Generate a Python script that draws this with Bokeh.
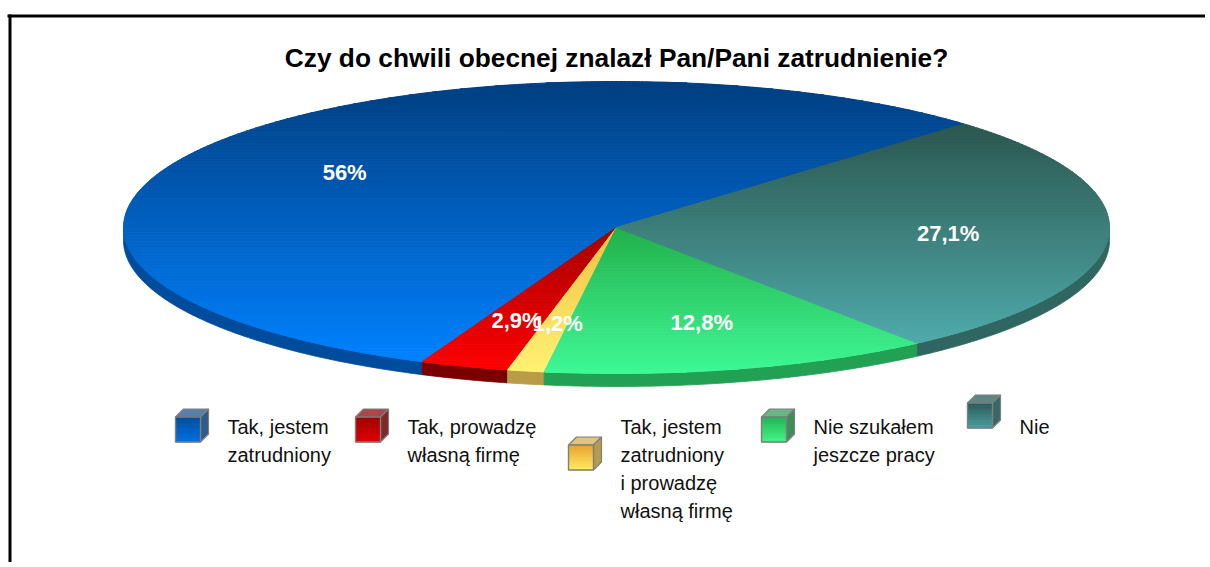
import math
from bokeh.plotting import figure
from bokeh.models import Range1d, ColumnDataSource
from bokeh.core.properties import value
from bokeh.embed import file_html
from bokeh.resources import INLINE

# ---------------- data ----------------
title = "Czy do chwili obecnej znalazł Pan/Pani zatrudnienie?"
categories = [
    "Tak, jestem\nzatrudniony",
    "Tak, prowadzę\nwłasną firmę",
    "Tak, jestem\nzatrudniony\ni prowadzę\nwłasną firmę",
    "Nie szukałem\njeszcze pracy",
    "Nie",
]
values = [56, 2.9, 1.2, 12.8, 27.1]

# ---------------- style ----------------
top_grad = [("#003E80", "#0082FF"), ("#A30000", "#FF0000"), ("#EFC040", "#FFF173"),
            ("#22B04A", "#40F896"), ("#2C574F", "#50AAAB")]
side_cols = ["#004C9C", "#7A0000", "#B89C48", "#22A053", "#2F6662"]
cube_front = [("#004C9C", "#0070E0"), ("#A00000", "#E00000"), ("#E8A030", "#FFEA60"),
              ("#1FB455", "#45F285"), ("#2A5A58", "#4A9C9C")]
cube_top = ["#5A80AA", "#A84848", "#E2C47E", "#6CB684", "#5F8585"]
cube_side = ["#2E5A8C", "#7E2828", "#B49C50", "#3D8E58", "#3A6666"]
legend_x = [175, 355, 568, 761, 967]

FONT = "Liberation Sans"
W, H = 1205, 562
CX, CY, RX, RY, DEPTH = 616, 227, 493, 146, 13
START = 45.2


def hex2rgb(h):
    h = h.lstrip("#")
    return tuple(int(h[i:i + 2], 16) for i in (0, 2, 4))


def mix(c0, c1, f):
    a, b = hex2rgb(c0), hex2rgb(c1)
    return "#%02x%02x%02x" % tuple(int(round(a[i] + (b[i] - a[i]) * f)) for i in range(3))


def clip(poly, yv, keep_greater):
    out = []
    n = len(poly)
    if n == 0:
        return out
    def inside(pt):
        return pt[1] >= yv if keep_greater else pt[1] <= yv
    for i in range(n):
        cur = poly[i]
        prev = poly[i - 1]
        ci, pi = inside(cur), inside(prev)
        if ci:
            if not pi:
                t = (yv - prev[1]) / (cur[1] - prev[1])
                out.append((prev[0] + t * (cur[0] - prev[0]), yv))
            out.append(cur)
        elif pi:
            t = (yv - prev[1]) / (cur[1] - prev[1])
            out.append((prev[0] + t * (cur[0] - prev[0]), yv))
    return out


def ept(t_deg, dy=0.0):
    t = math.radians(t_deg)
    return (CX + RX * math.cos(t), CY - RY * math.sin(t) + dy)


def arc(a0, a1, dy=0.0):
    n = max(2, int(abs(a1 - a0) / 0.5) + 1)
    return [ept(a0 + (a1 - a0) * i / (n - 1), dy) for i in range(n)]


p = figure(width=W, height=H, x_range=Range1d(0, W), y_range=Range1d(H, 0),
           output_backend="svg", toolbar_location=None, min_border=0,
           x_axis_location=None, y_axis_location=None)
p.grid.visible = False
p.outline_line_color = None
p.background_fill_color = "white"
p.border_fill_color = "white"

total = sum(values)
angles = []
a = START
for v in values:
    span = 360.0 * v / total
    angles.append((a, a + span))
    a += span

# ---- sides (front half only) ----
sx, sy, sc = [], [], []
for i, (a0, a1) in enumerate(angles):
    for off in (0, 360):
        lo, hi = max(a0, 180 + off), min(a1, 360 + off)
        if hi > lo:
            top = arc(lo, hi)
            bot = arc(hi, lo, DEPTH)
            pts = top + bot
            sx.append([q[0] for q in pts])
            sy.append([q[1] for q in pts])
            sc.append(side_cols[i])
p.patches("x", "y", source=ColumnDataSource(dict(x=sx, y=sy, c=sc)),
          fill_color="c", line_color="c", line_width=0.8)

# ---- top faces with vertical gradient ----
tx, ty, tc = [], [], []
for i, (a0, a1) in enumerate(angles):
    poly = [(CX, CY)] + arc(a0, a1)
    ys = [q[1] for q in poly]
    ymin, ymax = min(ys), max(ys)
    nb = max(2, int((ymax - ymin) / 1.5))
    for b in range(nb):
        y0 = ymin + (ymax - ymin) * b / nb
        y1 = ymin + (ymax - ymin) * (b + 1) / nb
        part = clip(clip(poly, y0, True), y1, False)
        if len(part) < 3:
            continue
        col = mix(top_grad[i][0], top_grad[i][1], (b + 0.5) / nb)
        tx.append([q[0] for q in part])
        ty.append([q[1] for q in part])
        tc.append(col)
p.patches("x", "y", source=ColumnDataSource(dict(x=tx, y=ty, c=tc)),
          fill_color="c", line_color="c", line_width=1.0)

# ---- percentage labels ----
lx, ly, lt = [], [], []
for (a0, a1), v in zip(angles, values):
    m = math.radians((a0 + a1) / 2)
    lx.append(CX + 0.67 * RX * math.cos(m) + 2)
    ly.append(CY - 0.67 * RY * math.sin(m))
    lt.append(("%g" % v).replace(".", ",") + "%")
p.text(x="x", y="y", text="t", source=ColumnDataSource(dict(x=lx, y=ly, t=lt)),
       text_font=value(FONT), text_font_style="bold", text_font_size="22px",
       text_color="white", text_align="center", text_baseline="middle")

# ---- title ----
p.text(x=[CX], y=[57], text=[title], text_font=value(FONT), text_font_style="bold",
       text_font_size="26.3px", text_color="#000000", text_align="center",
       text_baseline="alphabetic")

# ---- legend ----
LINE = 28
qx, qy, qc = [], [], []
gx, gy, gt = [], [], []
S, D = 25, 8
for i, cat in enumerate(categories):
    lines = cat.split("\n")
    n = len(lines)
    x0 = legend_x[i]
    y0 = 394.5 + (n - 1) * LINE / 2
    nb = 10
    for b in range(nb):
        ya = y0 + D + S * b / nb
        yb = y0 + D + S * (b + 1) / nb
        qx.append([x0, x0 + S, x0 + S, x0])
        qy.append([ya, ya, yb, yb])
        qc.append(mix(cube_front[i][0], cube_front[i][1], (b + 0.5) / nb))
    for lj, line in enumerate(lines):
        gx.append(x0 + 52)
        gy.append(426 + lj * LINE)
        gt.append(line)
    p.patch([x0, x0 + D, x0 + D + S, x0 + S], [y0 + D, y0, y0, y0 + D],
            fill_color=cube_top[i], line_color="#7f7f7f", line_width=1.2)
    p.patch([x0 + S, x0 + S + D, x0 + S + D, x0 + S], [y0 + D, y0, y0 + S, y0 + D + S],
            fill_color=cube_side[i], line_color="#7f7f7f", line_width=1.2)
p.patches("x", "y", source=ColumnDataSource(dict(x=qx, y=qy, c=qc)),
          fill_color="c", line_color="c", line_width=0.8)
for i, cat in enumerate(categories):
    n = len(cat.split("\n"))
    x0 = legend_x[i]
    y0 = 394.5 + (n - 1) * LINE / 2
    p.patch([x0, x0 + S, x0 + S, x0], [y0 + D, y0 + D, y0 + D + S, y0 + D + S],
            fill_color=None, line_color="#7f7f7f", line_width=1.4)
p.text(x="x", y="y", text="t", source=ColumnDataSource(dict(x=gx, y=gy, t=gt)),
       text_font=value(FONT), text_font_size="20px", text_color="#111111",
       text_align="left", text_baseline="alphabetic")

# ---- frame lines (top and left) ----
p.line([7, W], [15.5, 15.5], line_color="black", line_width=3)
p.line([9.5, 9.5], [14, H], line_color="black", line_width=3)

open("out.html", "w").write(file_html(p, INLINE))
